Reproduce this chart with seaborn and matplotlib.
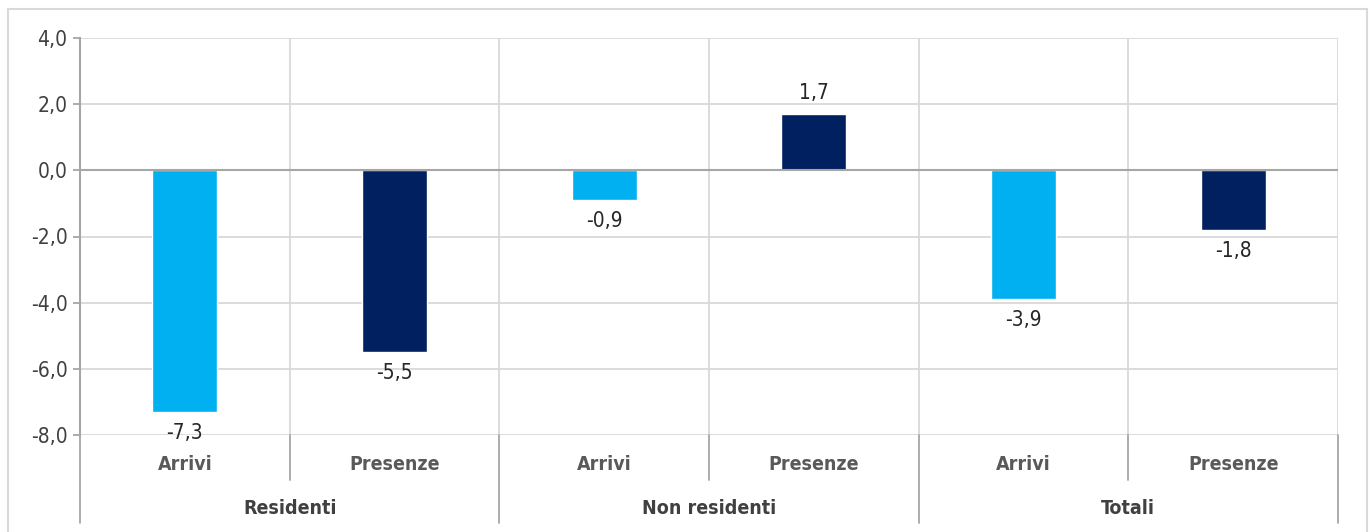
import numpy as np
import pandas as pd
import seaborn as sns
import matplotlib.pyplot as plt
from matplotlib.patches import Rectangle
import matplotlib.transforms as mtransforms

# Data
groups = ['Residenti', 'Non residenti', 'Totali']
measures = ['Arrivi', 'Presenze']
values = [-7.3, -5.5, -0.9, 1.7, -3.9, -1.8]

slots = [f'{g}|{m}' for g in groups for m in measures]
df = pd.DataFrame({
    'slot': slots,
    'misura': [m for g in groups for m in measures],
    'valore': values,
})

sns.set_style('white')
plt.rcParams['font.family'] = ['DejaVu Sans']
plt.rcParams['font.stretch'] = 'condensed'

fig = plt.figure(figsize=(13.72, 5.32), dpi=100)
ax = fig.add_axes([80 / 1372, 1 - 435 / 532, (1338 - 80) / 1372, (435 - 38) / 532])

palette = {'Arrivi': '#00B0F0', 'Presenze': '#002060'}
sns.barplot(data=df, x='slot', y='valore', hue='misura', palette=palette,
            dodge=False, width=0.31, saturation=1, legend=False, ax=ax, zorder=3)

ax.set_xlim(-0.5, len(slots) - 0.5)
ax.set_ylim(-8, 4)
ax.set_yticks(np.arange(-8, 5, 2))
ax.set_yticklabels([f'{v:.1f}'.replace('.', ',') for v in np.arange(-8, 5, 2)],
                   fontsize=15, color='#404040')
ax.set_xticks([])
ax.set_xlabel('')
ax.set_ylabel('')

grid_c = '#D9D9D9'
axis_c = '#A6A6A6'
for y in np.arange(-8, 5, 2):
    if y != 0:
        ax.axhline(y, color=grid_c, lw=1.3, zorder=1)
for x in np.arange(0.5, len(slots), 1.0):
    ax.axvline(x, color=grid_c, lw=1.3, zorder=1)
ax.axhline(0, color=axis_c, lw=1.5, zorder=4)

for s in ['top', 'right', 'bottom']:
    ax.spines[s].set_visible(False)
ax.spines['left'].set_color(axis_c)
ax.spines['left'].set_linewidth(1.5)
ax.tick_params(axis='y', length=5, color=axis_c, width=1.3, left=True, pad=4)

# value labels
for i, v in enumerate(values):
    lab = f'{v:.1f}'.replace('.', ',')
    if v >= 0:
        ax.annotate(lab, (i, v), xytext=(0, 8), textcoords='offset points',
                    ha='center', va='bottom', fontsize=15, color='#262626')
    else:
        ax.annotate(lab, (i, v), xytext=(0, -8), textcoords='offset points',
                    ha='center', va='top', fontsize=15, color='#262626')

# multilevel category axis
trans = mtransforms.blended_transform_factory(ax.transData, ax.transAxes)
px = 1 / (435 - 38)
sub_y = -(480 - 435) * px
grp_y = -(523 - 435) * px
for i, s in enumerate(slots):
    ax.text(i, -(465 - 435) * px, s.split('|')[1], transform=trans, ha='center',
            va='center', fontsize=14, fontweight='bold', color='#595959')
for k in range(len(slots) + 1):
    x = k - 0.5
    y_end = grp_y if k % 2 == 0 else sub_y
    ax.plot([x, x], [0, y_end], transform=trans, color=axis_c, lw=1.3,
            clip_on=False, zorder=2)
for j, g in enumerate(groups):
    ax.text(2 * j + 0.5, -(508 - 435) * px, g, transform=trans, ha='center',
            va='center', fontsize=14, fontweight='bold', color='#404040')

# outer chart border
fig.patches.append(Rectangle((8 / 1372, -0.02), (1367 - 8) / 1372, 1.02 - 9 / 532,
                             transform=fig.transFigure, fill=False,
                             edgecolor='#D9D9D9', lw=1.5))

fig.savefig('out.png', dpi=100)
